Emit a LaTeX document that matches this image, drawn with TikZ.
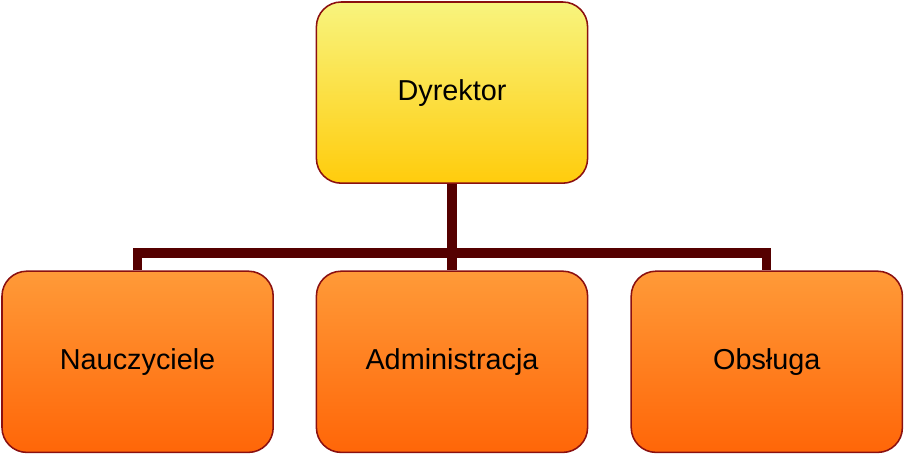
\documentclass[tikz,border=0pt]{standalone}
\usepackage{fontspec}
\setmainfont{Liberation Sans}
\usetikzlibrary{positioning}
\definecolor{ramka}{HTML}{8B1010}
\definecolor{linia}{HTML}{550000}
\definecolor{zoltyG}{HTML}{F8F47E}
\definecolor{zoltyD}{HTML}{FFCC0C}
\definecolor{pomG}{HTML}{FF9A38}
\definecolor{pomD}{HTML}{FF6608}
\tikzset{
  box/.style={draw=ramka, line width=1.1pt, rounded corners=0.62cm,
    minimum width=6.78cm, minimum height=4.53cm, inner sep=0pt,
    font=\fontsize{20.5}{24}\selectfont},
  szef/.style={box, top color=zoltyG, bottom color=zoltyD},
  dzial/.style={box, top color=pomG, bottom color=pomD},
  conn/.style={draw=linia, line width=6.6pt, line join=miter}
}
\begin{document}
\begin{tikzpicture}
    \useasboundingbox (0,0) rectangle (22.625,11.375);

    % Boxes
    \node[szef] (dyr) at (11.3,9.06) {Dyrektor};
    \node[dzial] (adm) at (11.3,2.33) {Administracja};
    \node[dzial] (naucz) at (3.44,2.33) {Nauczyciele};
    \node[dzial] (obs) at (19.17,2.33) {Obsługa};

    % Lines
    \coordinate (bus) at (11.3,5.05);
    \draw[conn] (dyr.south) -- (adm.north);
    \draw[conn] (naucz.north) |- (bus) -| (obs.north);
\end{tikzpicture}
\end{document}
